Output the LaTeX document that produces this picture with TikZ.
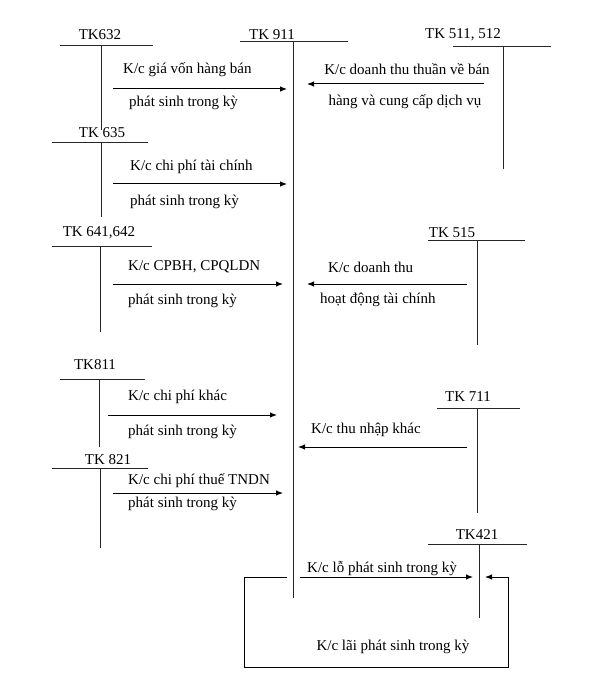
\documentclass[tikz,border=0pt]{standalone}
\usepackage{fontspec}
\setmainfont{Liberation Serif}
\usetikzlibrary{arrows.meta}
\begin{document}
\begin{tikzpicture}[x=1pt,y=-1pt]
	\tikzset{acc/.style={inner sep=0pt,font=\fontsize{15}{17}\selectfont}}
	\tikzset{lbl/.style={inner sep=0pt,anchor=west,font=\fontsize{15}{17}\selectfont}}
	\tikzset{tline/.style={line width=1pt,draw=black!85}}
	\tikzset{flow/.style={line width=1pt,-{Latex[length=7pt,width=5.5pt]}}}
	\useasboundingbox (0,0) rectangle (590,692);
	% T accounts
	\node[acc] (tk632) at (100,35) {TK632};
	\draw[tline] (60,46) -- (153,46) (101,46) -- (101,130);
	\node[acc] (tk911) at (272,35) {TK 911};
	\draw[tline] (240,42) -- (348,42) (293,42) -- (293,598);
	\node[acc] (tk511) at (463,35) {TK 511, 512};
	\draw[tline] (453,47) -- (551,47) (503,47) -- (503,169);
	\node[acc] (tk635) at (102,133) {TK 635};
	\draw[tline] (52,143) -- (148,143) (101,143) -- (101,217);
	\node[acc] (tk641) at (99,233) {TK 641,642};
	\draw[tline] (52,247) -- (152,247) (100,247) -- (100,332);
	\node[acc] (tk515) at (452,233) {TK 515};
	\draw[tline] (428,241) -- (525,241) (477,241) -- (477,345);
	\node[acc] (tk811) at (95,365) {TK811};
	\draw[tline] (60,379) -- (145,379) (99,379) -- (99,447);
	\node[acc] (tk711) at (468,397) {TK 711};
	\draw[tline] (437,408) -- (520,408) (477,408) -- (477,513);
	\node[acc] (tk821) at (108,460) {TK 821};
	\draw[tline] (52,468) -- (148,468) (100,468) -- (100,548);
	\node[acc] (tk421) at (477,535) {TK421};
	\draw[tline] (428,544) -- (527,544) (479,544) -- (479,618);
	% arrow ends
	\coordinate (s632) at (113,89);  \coordinate (e632) at (287,89);
	\coordinate (s511) at (484,84);  \coordinate (e511) at (307,84);
	\coordinate (s635) at (113,184); \coordinate (e635) at (287,184);
	\coordinate (s641) at (113,284); \coordinate (e641) at (283,284);
	\coordinate (s515) at (467,284); \coordinate (e515) at (307,284);
	\coordinate (s811) at (108,415); \coordinate (e811) at (277,415);
	\coordinate (s711) at (467,447); \coordinate (e711) at (298,447);
	\coordinate (s821) at (113,493); \coordinate (e821) at (283,493);
	\coordinate (slo) at (300,577);  \coordinate (elo) at (473,577);
	\coordinate (slai) at (287,577); \coordinate (elai) at (485,577);
	\draw[flow] (s632) -- (e632);
	\draw[flow] (s511) -- (e511);
	\draw[flow] (s635) -- (e635);
	\draw[flow] (s641) -- (e641);
	\draw[flow] (s515) -- (e515);
	\draw[flow] (s811) -- (e811);
	\draw[flow] (s711) -- (e711);
	\draw[flow] (s821) -- (e821);
	\draw[flow] (slo) -- (elo);
	\draw[flow] (slai) -- (244,577) -- (244,667) -- (508,667) -- (508,577) -- (elai);
	% labels
	\node[lbl] (l632a) at (123,70) {K/c giá vốn hàng bán};
	\node[lbl] (l632b) at (129,103) {phát sinh trong kỳ};
	\node[acc] (l511a) at (407,69) {K/c doanh thu thuần về bán};
	\node[acc] (l511b) at (405,102) {hàng và cung cấp dịch vụ};
	\node[lbl] (l635a) at (130,167) {K/c chi phí tài chính};
	\node[lbl] (l635b) at (130,202) {phát sinh trong kỳ};
	\node[lbl] (l641a) at (128,267) {K/c CPBH, CPQLDN};
	\node[lbl] (l641b) at (128,301) {phát sinh trong kỳ};
	\node[lbl] (l515a) at (328,267) {K/c doanh thu};
	\node[lbl] (l515b) at (320,300) {hoạt động tài chính};
	\node[lbl] (l811a) at (128,397) {K/c chi phí khác};
	\node[lbl] (l811b) at (128,432) {phát sinh trong kỳ};
	\node[lbl] (l711) at (311,430) {K/c thu nhập khác};
	\node[lbl] (l821a) at (128,481) {K/c chi phí thuế TNDN};
	\node[lbl] (l821b) at (128,504) {phát sinh trong kỳ};
	\node[lbl] (llo) at (307,569) {K/c lỗ phát sinh trong kỳ};
	\node[acc] (llai) at (393,647) {K/c lãi phát sinh trong kỳ};
\end{tikzpicture}
\end{document}
